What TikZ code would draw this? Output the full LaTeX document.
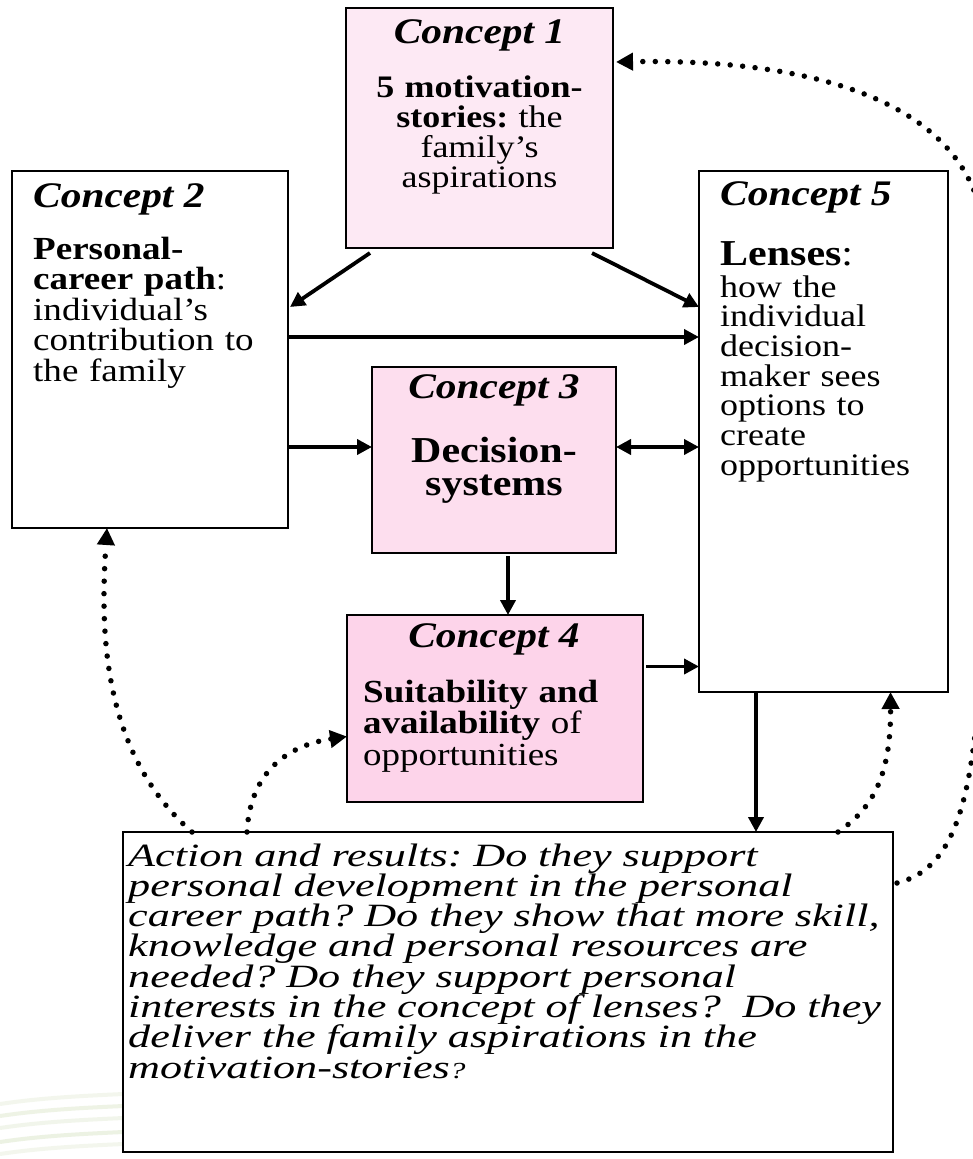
\documentclass[tikz,border=0pt]{standalone}
\usepackage{fontspec}
\setmainfont{Liberation Serif}
\newfontfamily\boxfont{Liberation Serif}[FakeStretch=1.15]
\newfontfamily\bigfont{Liberation Serif}[FakeStretch=1.36]
\usetikzlibrary{arrows.meta}
\definecolor{pinkA}{RGB}{253,233,244}
\definecolor{pinkB}{RGB}{253,222,238}
\definecolor{pinkC}{RGB}{253,212,234}
\definecolor{paleGreen}{RGB}{222,232,205}
\begin{document}
\frenchspacing
\begin{tikzpicture}[x=1pt,y=-1pt,
  every node/.append style={execute at begin node={\lineskiplimit=-100pt\lineskip=0pt\relax}},
  box/.style={draw=black, line width=2.2pt, inner sep=0pt, outer sep=0pt, anchor=north west},
  head/.style={font=\boxfont\fontsize{36}{36}\selectfont\bfseries\itshape, inner sep=0pt, anchor=base},
  body/.style={inner sep=0pt, anchor=base west, align=left},
  arr/.style={line width=3.8pt, -{Triangle[length=15pt,width=15pt]}},
  darr/.style={line width=3.8pt, {Triangle[length=15pt,width=15pt]}-{Triangle[length=15pt,width=15pt]}},
  dotarr/.style={line width=5.5pt, line cap=round, dash pattern=on 0pt off 12.5pt, -{Triangle[length=17pt,width=17pt]}}]
\useasboundingbox (0,0) rectangle (973,1159);
\fill[white] (0,0) rectangle (973,1159);
% faint background streaks bottom-left
\foreach \yy/\op in {1098/0.35,1110/0.5,1122/0.4,1136/0.55,1148/0.35}{
  \draw[paleGreen, opacity=\op, line width=4pt] (0,\yy+6) .. controls (40,\yy) and (80,\yy-2) .. (123,\yy-4);
}
% boxes
\node[box, fill=pinkA, minimum width=267pt, minimum height=240pt] (c1) at (346,8) {};
\node[box, fill=white, minimum width=276pt, minimum height=357pt] (c2) at (12,171) {};
\node[box, fill=white, minimum width=249pt, minimum height=521pt] (c5) at (699,171) {};
\node[box, fill=pinkB, minimum width=244pt, minimum height=186pt] (c3) at (372,367) {};
\node[box, fill=pinkC, minimum width=296pt, minimum height=187pt] (c4) at (347,615) {};
\node[box, fill=white, line width=2.6pt, minimum width=770pt, minimum height=320pt] (bb) at (123,832) {};
% texts
\node[head] (t1h) at (479.5,43) {Concept 1};
\node[body, anchor=base, align=center, text width=260pt, font=\boxfont\fontsize{31.3}{30}\selectfont] (t1b) at (479.5,97)
  {\textbf{5 motivation-}\\\textbf{stories:} the\\family’s\\aspirations};
\node[head, anchor=base west] (t2h) at (33,207) {Concept 2};
\node[body, text width=250pt, font=\boxfont\fontsize{32.2}{30.5}\selectfont] (t2b) at (33,259)
  {\textbf{Personal-}\\\textbf{career path}:\\individual’s\\contribution to\\the family};
\node[head, anchor=base west] (t5h) at (720,205) {Concept 5};
\node[body, text width=225pt, font=\boxfont\fontsize{36.5}{36}\selectfont] (t5a) at (720,265) {\textbf{Lenses}:};
\node[body, text width=225pt, font=\boxfont\fontsize{31.3}{29.7}\selectfont] (t5b) at (720,297)
  {how the\\individual\\decision-\\maker sees\\options to\\create\\opportunities};
\node[head] (t3h) at (494,398) {Concept 3};
\node[body, anchor=base, align=center, text width=240pt, font=\boxfont\fontsize{36.5}{33}\selectfont\bfseries] (t3b) at (494,462)
  {Decision-\\systems};
\node[head] (t4h) at (494,647) {Concept 4};
\node[body, text width=280pt, font=\boxfont\fontsize{32.2}{31.5}\selectfont] (t4b) at (363,702)
  {\textbf{Suitability and}\\\textbf{availability} of\\opportunities};
\node[body, text width=800pt, font=\bigfont\fontsize{32.5}{30.3}\selectfont\itshape] (tb) at (128,866)
  {Action and results: Do they support\\personal development in the personal\\career path? Do they show that more skill,\\knowledge and personal resources are\\needed? Do they support personal\\interests in the concept of lenses?\ \ Do they\\deliver the family aspirations in the\\motivation-stories{\fontsize{23}{23}\selectfont ?}};
% anchor helpers
\coordinate (c3L) at ([yshift=13pt]c3.west);
\coordinate (c3R) at ([yshift=13pt]c3.east);
\coordinate (c4R) at ([yshift=42pt]c4.east);
\coordinate (c3B) at ([xshift=14pt]c3.south);
\coordinate (c5B) at ([xshift=-67.5pt]c5.south);
% solid connectors
\draw[arr] ([shift={(24,5)}]c1.south west) -- ([shift={(2,136)}]c2.north east);
\draw[arr] ([shift={(-21,5)}]c1.south east) -- ([shift={(0,136)}]c5.north west);
\draw[arr] ([shift={(0,166)}]c2.north east) -- ([shift={(0,166)}]c5.north west);
\draw[arr] (c2.east |- c3L) -- (c3L);
\draw[darr] (c3R) -- (c5.west |- c3R);
\draw[arr] ([yshift=-3pt]c3B) -- (c3B |- c4.north);
\draw[arr] ([xshift=3pt]c4R) -- (c5.west |- c4R);
\draw[arr] (c5B) -- (c5B |- bb.north);
% dotted feedback connectors
\coordinate (bbA) at ([xshift=69pt]bb.north west);
\coordinate (bbB) at ([xshift=124pt]bb.north west);
\coordinate (bbC) at ([xshift=-55pt]bb.north east);
\coordinate (bbD) at ([shift={(4,51)}]bb.north east);
\draw[dotarr] (bbA) .. controls (98,750) and (101,620) .. ([xshift=-43pt]c2.south);
\draw[dotarr] (bbB) .. controls (250,770) and (290,745) .. ([yshift=-28pt]c4.west);
\draw[dotarr] (bbC) .. controls (870,810) and (891,780) .. ([xshift=67pt]c5.south);
\draw[dotarr] (bbD) .. controls (990,860) and (985,700) .. (985,250)
  .. controls (985,110) and (830,58) .. ([shift={(3,54)}]c1.north east);
\end{tikzpicture}
\end{document}
